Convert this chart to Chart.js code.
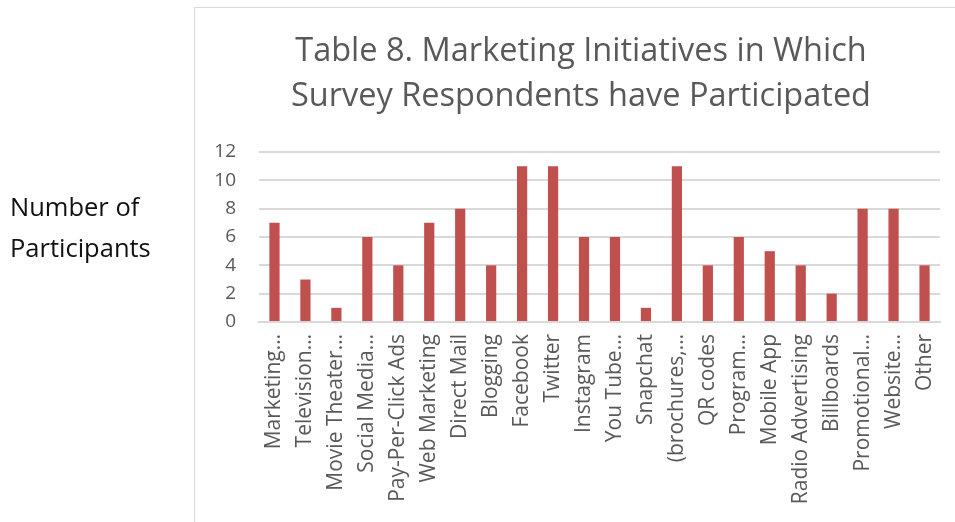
<!DOCTYPE html>
<html>
<head>
<meta charset="utf-8">
<script src="https://cdn.jsdelivr.net/npm/chart.js@4/dist/chart.umd.min.js"></script>
<style>
  html, body { margin: 0; padding: 0; background: #fff; }
  #wrap { position: relative; width: 955px; height: 522px; }
</style>
</head>
<body>
<div id="wrap"><canvas id="chart" width="955" height="522"></canvas></div>
<script>
// categories as shown (Excel cut the long ones)
const categories = [
    'Marketing…', 'Television…', 'Movie Theater…', 'Social Media…', 'Pay-Per-Click Ads',
    'Web Marketing', 'Direct Mail', 'Blogging', 'Facebook', 'Twitter', 'Instagram',
    'You Tube…', 'Snapchat', '(brochures,…', 'QR codes', 'Program…', 'Mobile App',
    'Radio Advertising', 'Billboards', 'Promotional…', 'Website…', 'Other'
];
const participants = [7, 3, 1, 6, 4, 7, 8, 4, 11, 11, 6, 6, 1, 11, 4, 6, 5, 4, 2, 8, 8, 4];
const titleLines = ['Table 8. Marketing Initiatives in Which', 'Survey Respondents have Participated'];
const yTitleLines = ['Number of', 'Participants'];

const FONT = '"Open Sans", sans-serif';
const GREY = '#595959';

// box outline, the title (the box runs past the right edge, so it is centred by hand)
// and the y title that sits outside the box
const frame = {
    id: 'frame',
    beforeDraw(chart) {
        const ctx = chart.ctx;
        ctx.save();
        ctx.strokeStyle = '#d9d9d9';
        ctx.lineWidth = 1;
        ctx.strokeRect(194.5, 7.5, 900, 700);
        ctx.restore();
    },
    afterDraw(chart) {
        const ctx = chart.ctx;
        ctx.save();
        ctx.textBaseline = 'middle';
        ctx.textAlign = 'center';
        ctx.fillStyle = GREY;
        ctx.font = '32.5px ' + FONT;
        ctx.fillText(titleLines[0], 581, 52);
        ctx.fillText(titleLines[1], 581, 97);
        ctx.textAlign = 'left';
        ctx.fillStyle = '#111';
        ctx.font = '25.5px ' + FONT;
        ctx.fillText(yTitleLines[0], 10, 209);
        ctx.fillText(yTitleLines[1], 10, 250);
        ctx.restore();
    }
};

new Chart(document.getElementById('chart'), {
    type: 'bar',
    data: {
        labels: categories,
        datasets: [{
            label: 'Number of Participants',
            data: participants,
            backgroundColor: '#C0504D',
            barPercentage: 0.33,
            categoryPercentage: 1.0
        }]
    },
    options: {
        responsive: false,
        animation: false,
        layout: { padding: { left: 195, right: 15, top: 152, bottom: 0 } },
        plugins: {
            legend: { display: false },
            tooltip: { enabled: false },
            title: { display: false }
        },
        scales: {
            x: {
                grid: { display: false, drawTicks: false },
                border: { color: '#d9d9d9', width: 2 },
                ticks: {
                    color: GREY,
                    font: { family: FONT, size: 21 },
                    minRotation: 90,
                    maxRotation: 90,
                    autoSkip: false,
                    padding: 12
                },
                afterFit(scale) {
                    scale.height = 200;
                    // no extra side room for the rotated end labels
                    scale.paddingLeft = 0;
                    scale.paddingRight = 0;
                }
            },
            y: {
                min: 0,
                max: 12,
                grid: { color: '#d9d9d9', lineWidth: 2, drawTicks: false },
                border: { display: false },
                ticks: {
                    stepSize: 2,
                    color: GREY,
                    font: { family: FONT, size: 19 },
                    padding: 23
                },
                afterFit(scale) { scale.width = 64; }
            }
        }
    },
    plugins: [frame]
});
</script>
</body>
</html>
